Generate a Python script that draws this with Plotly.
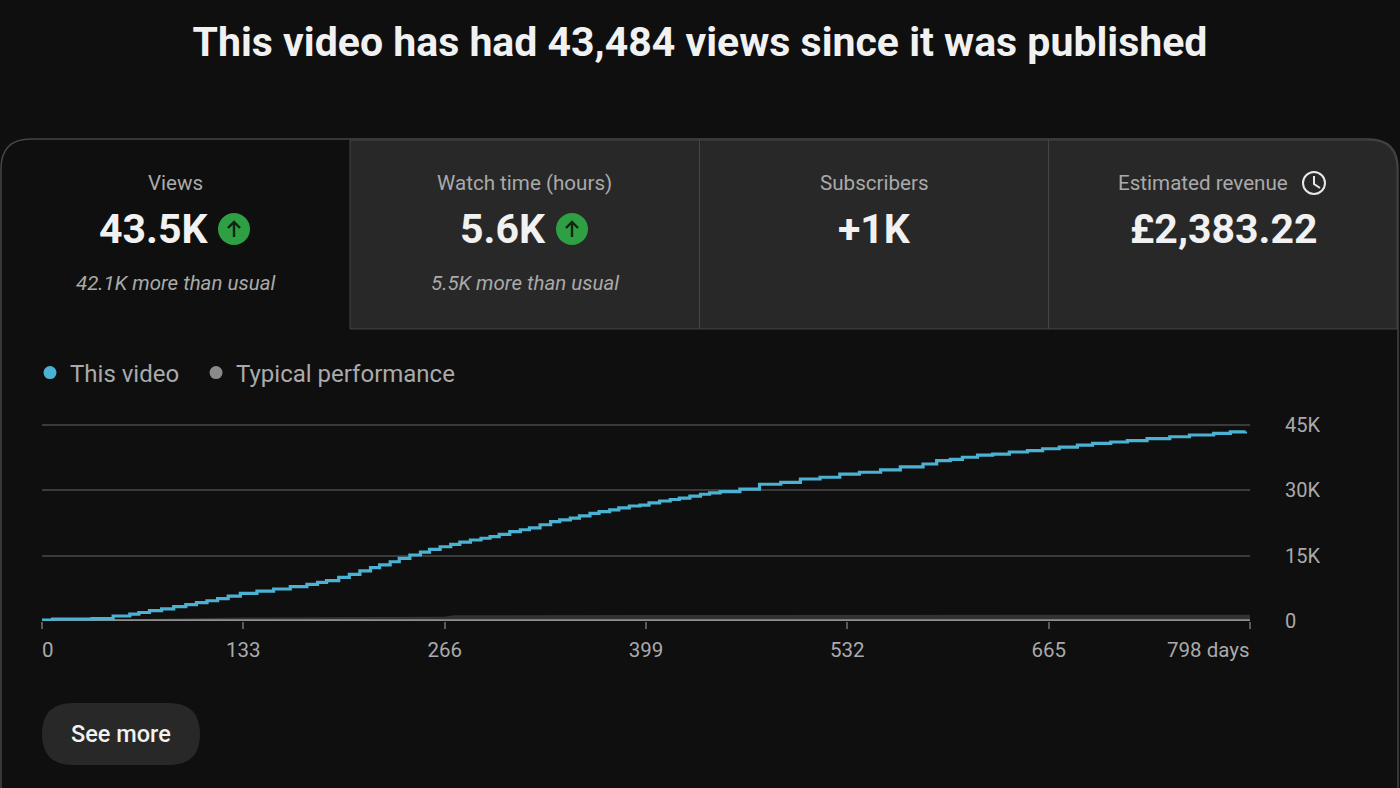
import plotly.graph_objects as go

W = 1400
H = 788

days = [0, 7, 33, 47, 58, 64, 71, 79, 87, 95, 102, 109, 116, 123, 131, 142, 153, 164, 175, 182, 188, 196,
        203, 210, 217, 223, 230, 236, 243, 250, 256, 263, 270, 276, 283, 290, 296, 302, 309, 316, 322,
        329, 336, 342, 349, 355, 362, 368, 375, 381, 388, 395, 401, 408, 415, 421, 428, 435, 441, 448,
        461, 474, 488, 501, 514, 527, 540, 554, 567, 582, 591, 600, 608, 618, 628, 639, 651, 661, 672,
        684, 694, 706, 717, 730, 745, 758, 774, 785, 795]
views = [230, 460, 530, 1150, 1600, 1950, 2360, 2800, 3280, 3750, 4200, 4650, 5120, 5700, 6360, 6850, 7350,
         7880, 8430, 8850, 9250, 10000, 10720, 11500, 12240, 12900, 13600, 14400, 15150, 15800, 16460, 17050,
         17600, 18100, 18600, 19000, 19350, 19900, 20500, 20950, 21400, 22100, 22800, 23200, 23600, 24150,
         24700, 25100, 25500, 25950, 26400, 26600, 27100, 27550, 27900, 28200, 28650, 29100, 29400, 29700,
         30300, 31400, 31850, 32600, 33000, 33700, 34150, 34700, 35400, 36050, 36800, 37100, 37600, 38100,
         38300, 38800, 39100, 39550, 39900, 40400, 40800, 41100, 41400, 41850, 42300, 42700, 43100, 43400,
         43484]

typical_days = [0, 33, 133, 266, 272, 399, 532, 665, 798]
typical_upper = [100, 300, 800, 1000, 1300, 1350, 1400, 1420, 1450]
typical_line = [60, 60, 60, 60, 60, 60, 60, 60, 60]

x_ticks = [0, 133, 266, 399, 532, 665, 798]
x_labels = ["", "133", "266", "399", "532", "665", ""]
y_ticks = [0, 15000, 30000, 45000]
y_labels = ["0", "15K", "30K", "45K"]

tile_names = ["Views", "Watch time (hours)", "Subscribers", "Estimated revenue"]
tile_values = ["43.5K", "5.6K", "+1K", "£2,383.22"]
tile_notes = ["42.1K more than usual", "5.5K more than usual", "", ""]

BG = "#0f0f0f"
TILE = "#282828"
EDGE = "#454545"
GREY = "#aaaaaa"
BLUE = "#4cb2d4"
GREEN = "#2ea043"
FONT = "Roboto"


def px(x):
    return x / W


def py(y):
    return 1 - y / H


def box(x0, y0, x1, y1, fill, line=None):
    return dict(type="rect", xref="paper", yref="paper", x0=px(x0), x1=px(x1), y0=py(y0), y1=py(y1),
                fillcolor=fill, line=dict(color=line or fill, width=1 if line else 0), layer="below")


def path(points, fill=None, line=None, width=0):
    d = ""
    for cmd, coords in points:
        d += cmd + " ".join(f"{px(c[0]):.5f},{py(c[1]):.5f}" for c in coords) + " "
    return dict(type="path", xref="paper", yref="paper", path=d.strip(), fillcolor=fill or "rgba(0,0,0,0)",
                line=dict(color=line or "rgba(0,0,0,0)", width=width), layer="below")


def circle(cx, cy, r, fill=None, line=None, width=0):
    return dict(type="circle", xref="paper", yref="paper", x0=px(cx - r), x1=px(cx + r), y0=py(cy + r), y1=py(cy - r),
                fillcolor=fill or "rgba(0,0,0,0)", line=dict(color=line or "rgba(0,0,0,0)", width=width), layer="above")


def text(x, y, s, size, color=GREY, anchor="center", weight=400, italic=False):
    return dict(xref="paper", yref="paper", x=px(x), y=py(y), text=s, showarrow=False, xanchor=anchor,
                yanchor="middle", font=dict(family=FONT, size=size, color=color, weight=weight,
                                            style="italic" if italic else "normal"))


def arrow(cx, cy):
    # little up arrow inside the green badge
    return [
        circle(cx, cy, 16, fill=GREEN),
        dict(type="path", xref="paper", yref="paper", layer="above", line=dict(color="#10240f", width=2.4),
             path=f"M{px(cx)},{py(cy + 8)} L{px(cx)},{py(cy - 7)} M{px(cx - 6)},{py(cy - 1)} "
                  f"L{px(cx)},{py(cy - 7)} L{px(cx + 6)},{py(cy - 1)}"),
    ]


fig = go.Figure()

# typical performance band + line
fig.add_trace(go.Scatter(x=typical_days, y=typical_upper, mode="lines", fill="tozeroy", fillcolor="#333333",
                         line=dict(color="#333333", width=0), showlegend=False, hoverinfo="skip"))
fig.add_trace(go.Scatter(x=typical_days, y=typical_line, mode="lines", line=dict(color="#8f8f8f", width=3),
                         showlegend=False, cliponaxis=False))
fig.add_trace(go.Scatter(x=days, y=views, mode="lines", line=dict(color=BLUE, width=3.2, shape="hv"),
                         showlegend=False, name="This video", cliponaxis=False))

# legend entries with round dots
fig.add_trace(go.Scatter(x=[None], y=[None], mode="markers", name="This video\u00a0\u00a0",
                         marker=dict(color=BLUE, size=13)))
fig.add_trace(go.Scatter(x=[None], y=[None], mode="markers", name="Typical performance",
                         marker=dict(color="#8a8a8a", size=13)))

shapes = [
    # card outline, rounded at the top
    path([("M", [(1, 788)]), ("L", [(1, 169)]), ("Q", [(1, 139), (31, 139)]), ("L", [(1368, 139)]),
          ("Q", [(1398, 139), (1398, 169)]), ("L", [(1398, 788)])], line=EDGE, width=1.5),
    # grey tiles
    path([("M", [(350, 329)]), ("L", [(350, 140)]), ("L", [(1368, 140)]), ("Q", [(1397, 140), (1397, 169)]),
          ("L", [(1397, 329)]), ("Z", [])], fill=TILE, line=EDGE, width=1),
    box(699, 140, 700, 329, EDGE),
    box(1048, 140, 1049, 329, EDGE),
    # see more button
    dict(type="path", xref="paper", yref="paper", fillcolor=TILE, line=dict(width=0), layer="below",
         path=f"M{px(73)},{py(703)} L{px(169)},{py(703)} Q{px(200)},{py(703)} {px(200)},{py(734)} "
              f"Q{px(200)},{py(765)} {px(169)},{py(765)} L{px(73)},{py(765)} "
              f"Q{px(42)},{py(765)} {px(42)},{py(734)} Q{px(42)},{py(703)} {px(73)},{py(703)} Z"),
    # clock icon
    circle(1314, 183, 11, line="#e8e8e8", width=2),
    dict(type="path", xref="paper", yref="paper", layer="above", line=dict(color="#e8e8e8", width=2),
         path=f"M{px(1314)},{py(176)} L{px(1314)},{py(184)} L{px(1320)},{py(188)}"),
]
shapes += arrow(234, 229) + arrow(572, 229)

label_x = [175, 524, 874, 1203]
value_x = [153, 503, 874, 1223]
note_x = [175, 525]
annotations = []
for i, name in enumerate(tile_names):
    annotations.append(text(label_x[i], 183, name, 20.6))
    annotations.append(text(value_x[i], 229, tile_values[i], 41, color="#f1f1f1", weight=700))
for i, note in enumerate(tile_notes[:2]):
    annotations.append(text(note_x[i], 283, note, 20.5, italic=True))
annotations.append(text(121, 734, "See more", 23.5, color="#f1f1f1", weight=500))
annotations.append(dict(xref="x", yref="paper", x=0, y=py(650), text="0", showarrow=False, xanchor="left",
                        xshift=-2, yanchor="middle", font=dict(family=FONT, size=20.5, color=GREY)))
annotations.append(dict(xref="x", yref="paper", x=798, y=py(650), text="798 days", showarrow=False,
                        xanchor="right", xshift=2, yanchor="middle", font=dict(family=FONT, size=20.5, color=GREY)))

fig.update_layout(
    width=W,
    height=H,
    margin=dict(l=0, r=0, t=0, b=0, autoexpand=False),
    paper_bgcolor=BG,
    plot_bgcolor=BG,
    font=dict(family=FONT, color=GREY, size=20),
    title=dict(text="This video has had 43,484 views since it was published", x=0.5, xanchor="center",
               y=py(42), yanchor="middle", font=dict(family=FONT, size=41, color="#f1f1f1", weight=700)),
    xaxis=dict(domain=[px(42), px(1250)], range=[0, 798], tickmode="array", tickvals=x_ticks, ticktext=x_labels,
               ticks="outside", ticklen=7, tickwidth=2, tickcolor="#5a5a5a", showgrid=False, zeroline=False,
               showline=False, ticklabelstandoff=3, tickfont=dict(family=FONT, size=20.5, color=GREY)),
    # the range runs three pixels above 45K so its gridline is still drawn
    yaxis=dict(domain=[py(621), py(422)], range=[0, 45689], side="right", tickmode="array", tickvals=y_ticks,
               ticktext=y_labels, ticks="", showgrid=True, gridcolor="#3a3a3a", gridwidth=1.5, zeroline=False,
               showline=False, ticklabelstandoff=34, tickfont=dict(family=FONT, size=20, color=GREY)),
    legend=dict(orientation="h", x=px(30), xanchor="left", y=py(373), yanchor="middle", bgcolor="rgba(0,0,0,0)",
                font=dict(family=FONT, size=24, color=GREY), itemclick=False, itemdoubleclick=False),
    shapes=shapes,
    annotations=annotations,
)

fig.write_html("out.html", post_script="document.body.style.margin='0';", config=dict(displayModeBar=False))
